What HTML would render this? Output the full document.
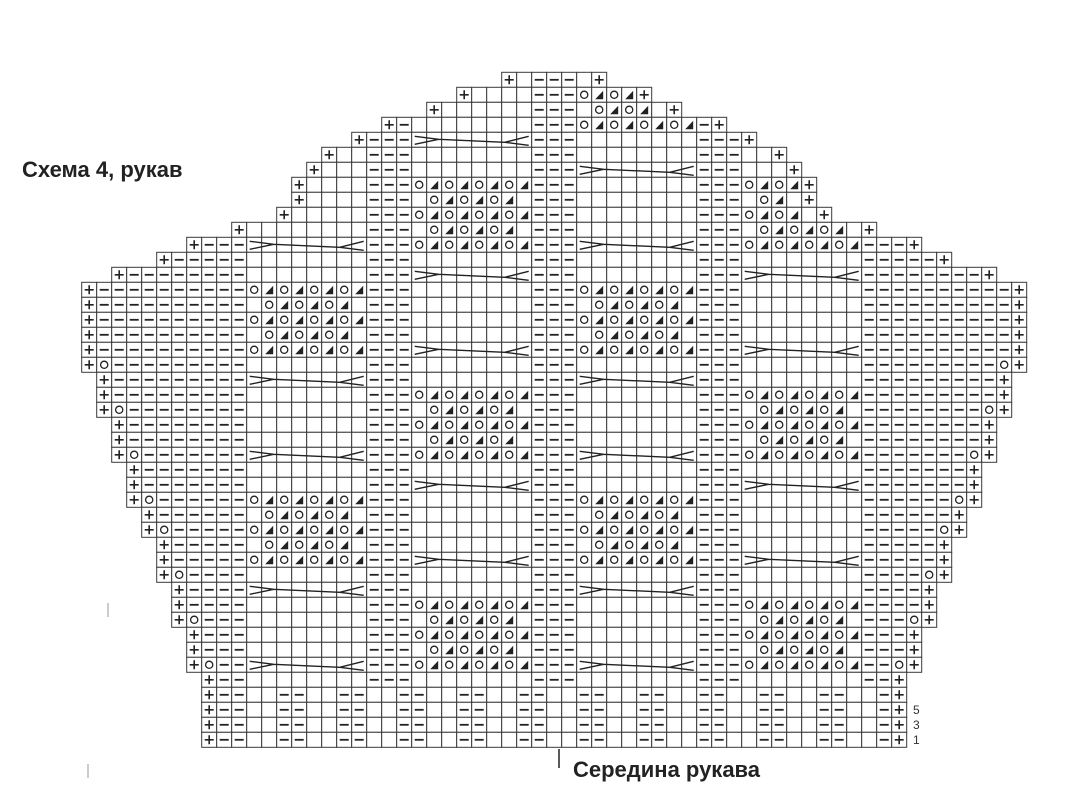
<!DOCTYPE html>
<html><head><meta charset="utf-8">
<style>
html,body{margin:0;padding:0;background:#fff;width:1067px;height:793px;overflow:hidden}
#wrap{position:relative;width:1067px;height:793px}
.t{position:absolute;font-family:"Liberation Sans",sans-serif;font-weight:bold;color:#222;font-size:22px;white-space:nowrap}
.n{position:absolute;font-family:"Liberation Sans",sans-serif;color:#333;font-size:12px}
svg{position:absolute;left:0;top:0}
</style></head>
<body><div id="wrap">
<svg id="g" width="1067" height="793" xmlns="http://www.w3.org/2000/svg"></svg>
<div class="t" style="left:22px;top:157px">Схема 4, рукав</div>
<div class="t" style="left:573px;top:757px">Середина рукава</div>
<div class="n" style="left:913px;top:703px">5</div>
<div class="n" style="left:913px;top:718px">3</div>
<div class="n" style="left:913px;top:733px">1</div>
</div>
<script>
(function(){
var X0=81.7,W=15,Y0=72.3,H=15;
var R=[[28,34],[25,37],[23,39],[20,42],[18,44],[16,46],[15,47],[14,48],[14,48],[13,49],[10,52],[7,55],[5,57],[2,60],
[0,62],[0,62],[0,62],[0,62],[0,62],[0,62],[1,61],[1,61],[1,61],[2,60],[2,60],[2,60],[3,59],[3,59],[3,59],[4,58],[4,58],
[5,57],[5,57],[5,57],[6,56],[6,56],[6,56],[7,55],[7,55],[7,55],[8,54],[8,54],[8,54],[8,54],[8,54]];
var oRows=[19,22,25,28,30,33,36,39];
var acL={1:'F',2:'H',3:'F',14:'F',15:'H',16:'F',17:'H',18:'F',28:'F',29:'H',30:'F',31:'H',32:'F'};
var bdL={7:'F',8:'H',9:'F',10:'H',11:'F',21:'F',22:'H',23:'F',24:'H',25:'F',35:'F',36:'H',37:'F',38:'H',39:'F'};
var acC=[6,11,20,25,34,39], bdC=[4,13,18,27,32];
var lim={'C1':[33,36],'C2':[34,37],'D7':[44,47],'D8':[45,46],'D9':[44,47]};
var P={A:11,B:22,C:33,D:44};
var out=[];
function sym(r,c,s,e){
 if(c==s||c==e)return '+';
 if(r>=41)return ((c-9)%4<2)?'-':'';
 if(oRows.indexOf(r)>=0&&(c==s+1||c==e-1))return 'o';
 if(c<=10||c>=52)return '-';
 if((c>=19&&c<=21)||(c>=30&&c<=32)||(c>=41&&c<=43))return '-';
 var p=null;for(var k in P){if(c>=P[k]&&c<P[k]+8)p=k;}
 if(!p)return '';
 var L=(p=='A'||p=='C')?acL[r]:bdL[r];
 if(!L)return '';
 var lm=lim[p+r]; if(lm&&(c<lm[0]||c>lm[1]))return '';
 var off=c-P[p];
 if(L=='F')return off%2==0?'o':'t';
 if(off==0||off==7)return '';
 return off%2==1?'o':'t';
}
for(var r=0;r<R.length;r++){
 var s=R[r][0],e=R[r][1],y=Y0+r*H;
 for(var c=s;c<=e;c++){
  var x=X0+c*W;
  out.push('<rect x="'+x.toFixed(1)+'" y="'+y.toFixed(1)+'" width="'+W+'" height="'+H+'" fill="#fff" stroke="#3a3a3a" stroke-width="1"/>');
  var v=sym(r,c,s,e),cx=x+7.5,cy=y+7.5;
  if(v=='+')out.push('<path d="M'+(cx-4.5)+' '+cy+'h9M'+cx+' '+(cy-4.5)+'v9" stroke="#222" stroke-width="1.6"/>');
  else if(v=='-')out.push('<path d="M'+(cx-4.5)+' '+cy+'h9" stroke="#222" stroke-width="1.8"/>');
  else if(v=='o')out.push('<circle cx="'+cx+'" cy="'+cy+'" r="3.6" fill="none" stroke="#222" stroke-width="1.3"/>');
  else if(v=='t')out.push('<path d="M'+(x+3.5)+' '+(y+12)+'L'+(x+11.5)+' '+(y+12)+'L'+(x+11.5)+' '+(y+3.5)+'Z" fill="#222"/>');
 }
}
function cable(p,r){
 var s=R[r][0],e=R[r][1],c0=P[p];
 if(c0<=s||c0+7>=e)return;
 var x=X0+c0*W,y=Y0+r*H;
 out.push('<path d="M'+(x+3)+' '+(y+4)+'L'+(x+27)+' '+(y+7)+'L'+(x+3)+' '+(y+12)+'M'+(x+27)+' '+(y+7)+'L'+(x+93)+' '+(y+10)+'M'+(x+117)+' '+(y+4)+'L'+(x+93)+' '+(y+10)+'L'+(x+117)+' '+(y+13)+'" fill="none" stroke="#222" stroke-width="1.4"/>');
}
acC.forEach(function(r){cable('A',r);cable('C',r);});
bdC.forEach(function(r){cable('B',r);cable('D',r);});
out.push('<path d="M559 749V768" stroke="#222" stroke-width="1.5"/>');
out.push('<path d="M108 603V617M88 764V778" stroke="#999" stroke-width="1"/>');
document.getElementById('g').innerHTML=out.join('');
})();
</script>
</body></html>
